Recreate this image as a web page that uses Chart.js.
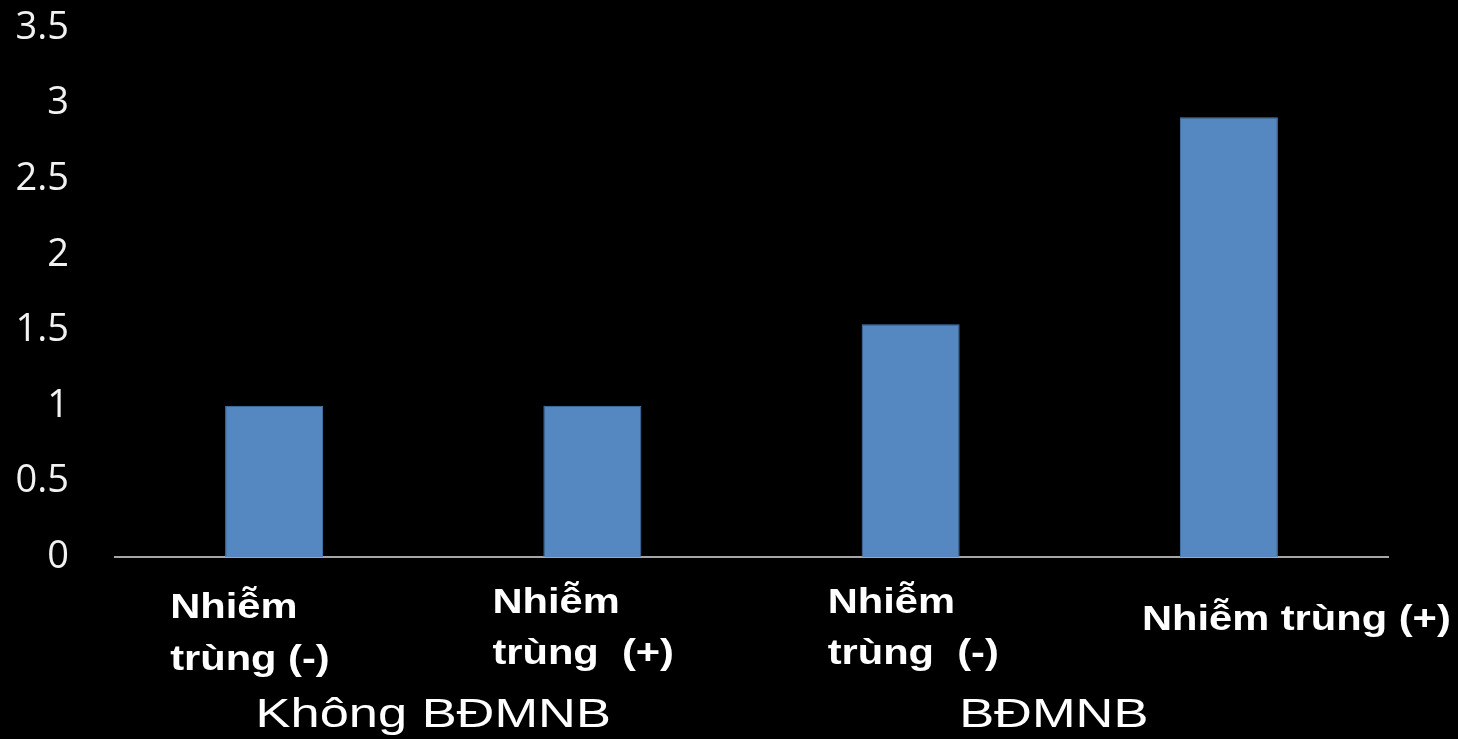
<!DOCTYPE html>
<html>
<head>
<meta charset="utf-8">
<script src="https://cdn.jsdelivr.net/npm/chart.js@4/dist/chart.umd.min.js"></script>
<style>
  html, body { margin: 0; padding: 0; background: #000; }
  #wrap { width: 1458px; height: 739px; }
</style>
</head>
<body>
<div id="wrap"><canvas id="chart"></canvas></div>
<script>
// categories (each line of a label on its own), groups and values
const categories = [
    ["Nhiễm", "trùng (-)"],
    ["Nhiễm", "trùng  (+)"],
    ["Nhiễm", "trùng  (-)"],
    ["Nhiễm trùng (+)"]
];
const groups = ["Không BĐMNB", "BĐMNB"];
const groupMembers = [[0, 1], [2, 3]];
const values = [1, 1, 1.54, 2.91];
const yTicks = [0, 0.5, 1, 1.5, 2, 2.5, 3, 3.5];

// where each label sits relative to its bar centre
const labelLayout = [
    { dx: -104, y: [618, 670] },
    { dx: -100, y: [613, 664] },
    { dx: -83, y: [613, 664] },
    { dx: -87, y: [630] }
];
const groupLayout = [{ dx: 0, y: 727 }, { dx: -16, y: 727 }];

function drawStretched(ctx, text, x, y, sx, align) {
    ctx.save();
    ctx.translate(x, y);
    ctx.scale(sx, 1);
    ctx.textAlign = align;
    ctx.fillText(text, 0, 0);
    ctx.restore();
}

// category and group labels under the axis
const categoryLabels = {
    id: "categoryLabels",
    afterDraw(chart) {
        const ctx = chart.ctx;
        const x = chart.scales.x;
        ctx.save();
        ctx.fillStyle = "#ffffff";
        ctx.textBaseline = "alphabetic";
        ctx.font = "bold 35px 'Liberation Sans', Arial, sans-serif";
        categories.forEach((lines, i) => {
            const lay = labelLayout[i];
            const left = x.getPixelForValue(i) + lay.dx;
            lines.forEach((line, j) => drawStretched(ctx, line, left, lay.y[j], 1.19, "left"));
        });
        ctx.font = "40px 'Liberation Sans', Arial, sans-serif";
        groups.forEach((g, i) => {
            const m = groupMembers[i];
            const cx = (x.getPixelForValue(m[0]) + x.getPixelForValue(m[m.length - 1])) / 2 + groupLayout[i].dx;
            drawStretched(ctx, g, cx, groupLayout[i].y, 1.31, "center");
        });
        ctx.restore();
    }
};

const ctx = document.getElementById("chart").getContext("2d");
new Chart(ctx, {
    type: "bar",
    data: {
        labels: categories,
        datasets: [{
            data: values,
            backgroundColor: "#5588c1",
            borderColor: "#4a7bb5",
            borderWidth: 1,
            barPercentage: 0.308,
            categoryPercentage: 1
        }]
    },
    options: {
        responsive: true,
        maintainAspectRatio: false,
        animation: false,
        layout: { padding: { top: 28, right: 70, left: 0, bottom: 0 } },
        plugins: {
            legend: { display: false },
            tooltip: { enabled: false }
        },
        scales: {
            x: {
                grid: { display: false, drawTicks: false },
                border: { display: true, color: "#a6a6a6", width: 2 },
                ticks: { display: false },
                afterFit: s => { s.height = 182; }
            },
            y: {
                min: 0,
                max: 3.5,
                grid: { display: false, drawTicks: false },
                border: { display: false },
                afterBuildTicks: s => { s.ticks = yTicks.map(v => ({ value: v })); },
                ticks: {
                    color: "#f2f2f2",
                    padding: 46,
                    font: { family: "'Open Sans', sans-serif", size: 38 },
                    callback: v => String(v)
                },
                afterFit: s => {
                    s.width = 115;
                    s.paddingTop = 0;
                    s.paddingBottom = 0;
                }
            }
        }
    },
    plugins: [categoryLabels]
});
</script>
</body>
</html>
